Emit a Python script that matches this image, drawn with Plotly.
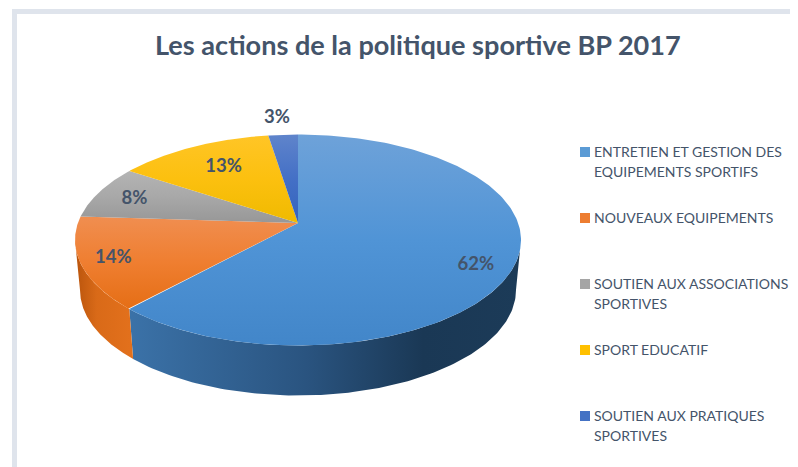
import numpy as np
import plotly.graph_objects as go

TITLE = "Les actions de la politique sportive BP 2017"
CATEGORIES = [
    ["ENTRETIEN ET GESTION DES", "EQUIPEMENTS SPORTIFS"],
    ["NOUVEAUX EQUIPEMENTS"],
    ["SOUTIEN AUX ASSOCIATIONS", "SPORTIVES"],
    ["SPORT EDUCATIF"],
    ["SOUTIEN AUX PRATIQUES", "SPORTIVES"],
]
VALUES = [61.8, 14.2, 8.3, 13.2, 2.5]
PERCENT_LABELS = ["62%", "14%", "8%", "13%", "3%"]

TOP_COLORS = [
    ["#6ea2d9", "#5094d6", "#4286c9"],
    ["#f08e50", "#ef7e30", "#e56e15"],
    ["#b4b4b4", "#a8a8a8", "#979797"],
    ["#ffc526", "#fcc00f", "#efba00"],
    ["#5f84cb", "#4470c6", "#3463bd"],
]
WALL_COLORS = {
    0: [[0, "#3b72a8"], [0.45, "#2a5480"], [0.75, "#1a3855"], [1, "#1c3b58"]],
    1: [[0, "#e2701c"], [0.6, "#d96a18"], [1, "#b9540c"]],
}
LEGEND_COLORS = ["#5b9bd5", "#ed7d31", "#a5a5a5", "#ffc000", "#4472c4"]
LEGEND_Y = [152, 218, 284, 350, 416]
LABEL_ANGLE = [117, 247.5, 287.5, 328, 354.6]
LABEL_RADIUS = [0.85, 0.86, 0.81, 0.70, 1.22]

INK = "#44546a"
CX, CY, RX, RY, APEX = 298, 240, 223, 105.5, 17
K = APEX / RY
# the page keeps an 8px body margin, so the plot area starts at (8, 8)
PAGE_W, PAGE_H, BODY = 798, 467, 8


def project(theta, r=1.0, rx=RX, cy=CY):
    """Clockwise angle from the top -> page position on the tilted disc."""
    u, v = r * np.sin(theta), r * np.cos(theta)
    w = 1 + K * v
    c = rx * np.sqrt(1 - K * K)
    return CX + c * u / w, cy - (RY * v + APEX) / w


fig = go.Figure()
edges = np.radians(np.cumsum([0] + VALUES) / sum(VALUES) * 360)

# side walls, between the disc's widest points
widest = np.arccos(-K)
wall_spans = {0: (widest, edges[1]), 1: (edges[1], 2 * np.pi - widest)}
for i, (a, b) in wall_spans.items():
    t = np.linspace(a, b, 120)
    x1, y1 = project(t)
    x2, y2 = project(t[::-1], rx=218, cy=290)
    xs, ys = np.r_[x1, x2, x1[0]], np.r_[y1, y2, y1[0]]
    x0, x3 = (x1.min(), x1.max())
    fig.add_trace(go.Scatter(
        x=xs, y=ys, mode="lines", fill="toself", line=dict(width=0),
        fillgradient=dict(type="horizontal", colorscale=WALL_COLORS[i],
                          start=x0 if i == 0 else x1.max(),
                          stop=x3 if i == 0 else x1.min()),
        hoverinfo="skip", showlegend=False))

# top face
for i in range(len(VALUES)):
    t = np.linspace(edges[i], edges[i + 1], 200)
    x, y = project(t)
    ax, ay = project(0.0, 0.0)
    xs, ys = np.r_[ax, x, ax], np.r_[ay, y, ay]
    cols = TOP_COLORS[i]
    fig.add_trace(go.Scatter(
        x=xs, y=ys, mode="lines", fill="toself", line=dict(width=0),
        fillgradient=dict(type="vertical",
                          colorscale=[[0, cols[0]], [0.5, cols[1]], [1, cols[2]]],
                          start=float(ys.min()), stop=float(ys.max())),
        hoverinfo="skip", showlegend=False))

# percentage labels
lx, ly = project(np.radians(LABEL_ANGLE), np.array(LABEL_RADIUS))
fig.add_trace(go.Scatter(
    x=lx, y=ly, mode="text", text=PERCENT_LABELS,
    textfont=dict(family="Lato", size=18.5, color=INK, weight="bold"),
    hoverinfo="skip", showlegend=False))

# legend
fig.add_trace(go.Scatter(
    x=[585] * len(LEGEND_Y), y=LEGEND_Y, mode="markers",
    marker=dict(symbol="square", size=10, color=LEGEND_COLORS),
    hoverinfo="skip", showlegend=False))
for lines, y0 in zip(CATEGORIES, LEGEND_Y):
    for j, line in enumerate(lines):
        fig.add_annotation(x=591.5, y=y0 - 1 + j * 20.5, text=line, showarrow=False,
                           xanchor="left", yanchor="middle",
                           font=dict(family="Lato", size=14, color=INK))

fig.add_annotation(x=417.5, y=44, text=f"<b>{TITLE}</b>", showarrow=False,
                   xanchor="center", yanchor="middle",
                   font=dict(family="Lato", size=27.1, color=INK))

frame = "#dfe4ec"
fig.add_shape(type="rect", x0=12, x1=798, y0=9, y1=14, fillcolor=frame, line_width=0, layer="below")
fig.add_shape(type="rect", x0=12, x1=17, y0=9, y1=467, fillcolor=frame, line_width=0, layer="below")

fig.update_layout(
    width=PAGE_W - BODY, height=PAGE_H - BODY, margin=dict(l=0, r=0, t=0, b=0),
    paper_bgcolor="white", plot_bgcolor="white", showlegend=False,
    xaxis=dict(range=[BODY, PAGE_W], visible=False, fixedrange=True),
    yaxis=dict(range=[PAGE_H, BODY], visible=False, fixedrange=True),
)
fig.write_html("out.html", config={"displayModeBar": False})
